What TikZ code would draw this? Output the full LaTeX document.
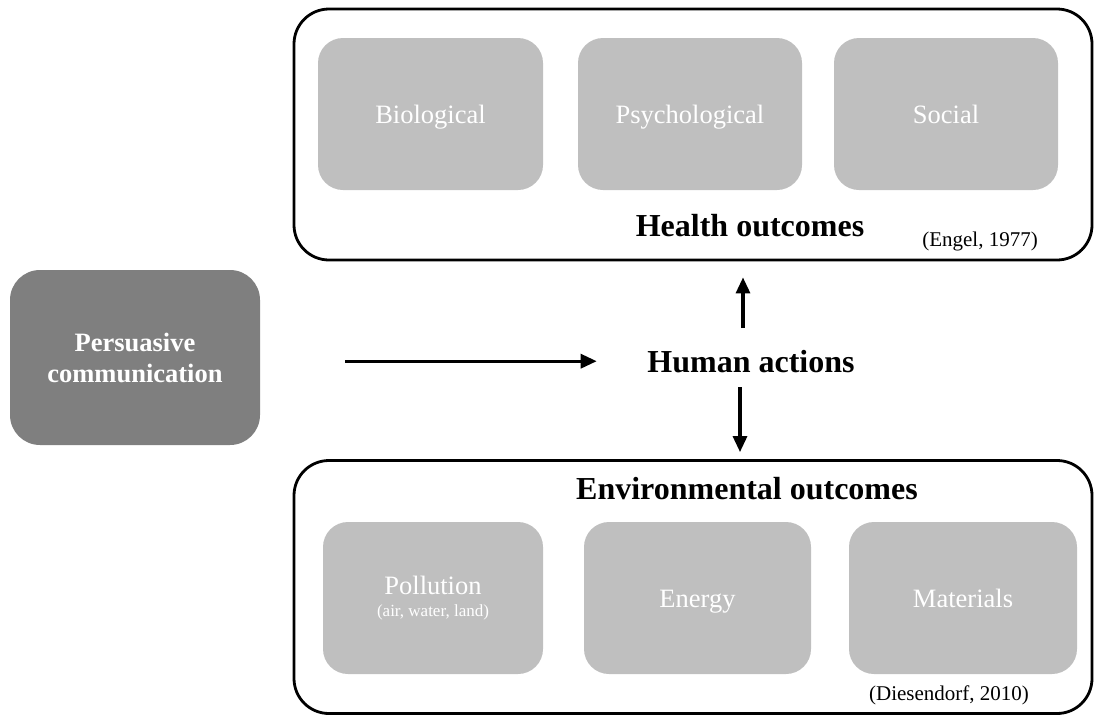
\documentclass[tikz,border=0pt]{standalone}
\usepackage{fontspec}
\setmainfont{Liberation Serif}
\usetikzlibrary{arrows.meta}
\definecolor{persgray}{HTML}{7F7F7F}
\definecolor{innergray}{HTML}{BFBFBF}
\begin{document}
\begin{tikzpicture}[x=1pt,y=-1pt,
  outerbox/.style={draw=black, line width=2.8pt, rounded corners=35pt,
    rectangle, inner sep=0pt},
  factor/.style={fill=innergray, rounded corners=25pt, rectangle, inner sep=0pt,
    minimum height=152pt, text=white, align=center,
    font=\fontsize{26.5}{22}\selectfont},
  onelabel/.style={text height=18pt, text depth=0pt},
  heading/.style={font=\bfseries\fontsize{32}{38}\selectfont, inner sep=0pt, anchor=base},
  cite/.style={font=\fontsize{21}{25}\selectfont, inner sep=0pt, anchor=base},
  arr/.style={line width=3.2pt, -{Triangle[length=16pt, width=14pt]}}
]
\useasboundingbox (0,0) rectangle (1094,718);

% persuasive communication source box
\node[fill=persgray, rounded corners=30pt, rectangle, inner sep=0pt,
      minimum width=250pt, minimum height=175pt, text=white, align=center,
      font=\bfseries\fontsize{26.5}{31}\selectfont]
  (pers) at (135,357.5) {Persuasive\\communication};

% health outcomes group
\node[outerbox, minimum width=798pt, minimum height=251pt] (health) at (693,134.5) {};
\node[factor, onelabel, minimum width=225pt] (bio) at (430.5,114) {Biological};
\node[factor, onelabel, minimum width=224pt] (psy) at (690,114) {Psychological};
\node[factor, onelabel, minimum width=224pt] (soc) at (946,114) {Social};
\node[heading] (healthlbl) at (750,236) {Health outcomes};
\node[cite] (engel) at (980,246) {(Engel, 1977)};

% environmental outcomes group
\node[outerbox, minimum width=798pt, minimum height=253pt] (env) at (693,587) {};
\node[factor, minimum width=220pt] (poll) at (433,598)
  {Pollution\\\fontsize{17}{22}\selectfont (air, water, land)};
\node[factor, onelabel, minimum width=227pt] (energy) at (697.5,598) {Energy};
\node[factor, onelabel, minimum width=228pt] (mat) at (963,598) {Materials};
\node[heading] (envlbl) at (747,499) {Environmental outcomes};
\node[cite] (dies) at (949,700) {(Diesendorf, 2010)};

% central node
\node[font=\bfseries\fontsize{32}{38}\selectfont, inner sep=0pt,
      text height=21.6pt, text depth=0pt] (human) at (751,361.2) {Human actions};

% connectors
\draw[arr, shorten <=85pt, shorten >=50.5pt] (pers.east |- human.west) -- (human.west);
\draw[arr, shorten <=22pt, shorten >=16pt]
  ([xshift=-8pt]human.north) -- ([xshift=-8pt]human.north |- health.south);
\draw[arr, shorten <=15pt, shorten >=7pt]
  ([xshift=-11pt]human.south) -- ([xshift=-11pt]human.south |- env.north);
\end{tikzpicture}
\end{document}
